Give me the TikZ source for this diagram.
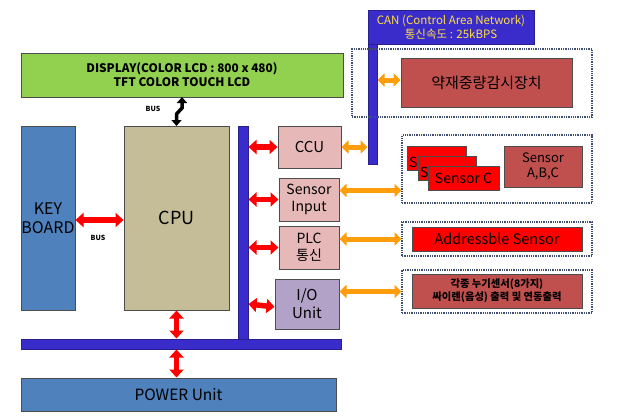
\documentclass[tikz,border=0pt]{standalone}
\usepackage{fontspec}
\setmainfont{Noto Sans CJK KR}
\usetikzlibrary{arrows.meta,calc}
\definecolor{cgreen}{HTML}{92D050}
\definecolor{cblue}{HTML}{4F81BD}
\definecolor{ctan}{HTML}{C4BD97}
\definecolor{cpink}{HTML}{E6B9B8}
\definecolor{cpurple}{HTML}{B3A2C7}
\definecolor{cdred}{HTML}{C0504D}
\definecolor{cred}{HTML}{FF0000}
\definecolor{cbus}{HTML}{3A2CCB}
\definecolor{corange}{HTML}{FF9D0A}
\definecolor{cdot}{HTML}{3F4F6F}
\definecolor{cyel}{HTML}{FFE040}
\newcommand\mkbox[7]{%
  \node[#6, minimum width={(#4-#2)*1pt}, minimum height={(#5-#3)*1pt}] (#1) at ({(#2+#4)/2},{(#3+#5)/2}) {#7};}
\tikzset{
  bx/.style={draw=black!70, line width=0.6pt, inner sep=0pt, outer sep=0pt, align=center},
  busbar/.style={fill=cbus, draw=cbus!70!black, line width=0.4pt, inner sep=0pt, outer sep=0pt, align=center},
  dotbox/.style={draw=cdot, densely dotted, line width=1.3pt, inner sep=0pt, outer sep=0pt},
  redarr/.style={draw=cred, line width=5.5pt, {Triangle[length=8pt,width=14pt]}-{Triangle[length=8pt,width=14pt]}, shorten <=0.5pt, shorten >=0.5pt},
  orarr/.style={draw=corange, line width=5pt, {Triangle[length=7pt,width=13pt]}-{Triangle[length=7pt,width=13pt]}, shorten <=0.5pt, shorten >=0.5pt},
  blkarr/.style={draw=black, line width=3.5pt, {Triangle[length=6pt,width=10pt]}-{Triangle[length=6pt,width=10pt]}},
  small/.style={font=\fontsize{7}{8}\selectfont\bfseries, inner sep=0pt},
}
\begin{document}
\begin{tikzpicture}[x=1pt,y=-1pt]
\useasboundingbox (0,0) rectangle (634,418);
% main blocks
\mkbox{disp}{21}{53}{343}{97}{bx,fill=cgreen,font=\fontsize{11.8}{14}\selectfont\bfseries}{DISPLAY(COLOR LCD : 800 x 480)\\TFT COLOR TOUCH LCD}
\mkbox{kb}{21}{126}{75}{310}{bx,fill=cblue,font=\fontsize{16}{18.5}\selectfont}{KEY\\BOARD}
\mkbox{cpu}{124}{126}{229}{310}{bx,fill=ctan,font=\fontsize{18}{20}\selectfont}{CPU}
\mkbox{vbus}{238}{126}{248}{339}{busbar}{}
\mkbox{hbus}{21}{339}{341}{349}{busbar}{}
\mkbox{power}{21}{378}{336}{411}{bx,fill=cblue,font=\fontsize{15.5}{18}\selectfont}{POWER Unit}
% interface units
\mkbox{ccu}{278}{126}{341}{168}{bx,fill=cpink,font=\fontsize{15}{17}\selectfont}{CCU}
\mkbox{sin}{279}{178}{339}{221}{bx,fill=cpink,font=\fontsize{14}{16.5}\selectfont}{Sensor\\Input}
\mkbox{plc}{279}{226}{339}{269}{bx,fill=cpink,font=\fontsize{14}{16.5}\selectfont}{PLC\\통신}
\mkbox{io}{275}{279}{339}{329}{bx,fill=cpurple,font=\fontsize{15}{18}\selectfont}{I/O\\Unit}
% CAN
\mkbox{canhd}{368}{10}{534}{44}{busbar,text=cyel,font=\fontsize{11.5}{14}\selectfont}{CAN (Control Area Network)\\통신속도 : 25kBPS}
\mkbox{cbar}{368}{44}{377}{164}{busbar}{}
% dotted groups
\mkbox{dot1}{352}{49}{592}{117}{dotbox}{}
\mkbox{dot2}{402}{135}{592}{203}{dotbox}{}
\mkbox{dot3}{402}{222}{592}{256}{dotbox}{}
\mkbox{dot4}{402}{270}{592}{313}{dotbox}{}
% peripherals
\mkbox{weigh}{401}{58}{572}{107}{bx,fill=cdred,font=\fontsize{15}{17}\selectfont}{약재중량감시장치}
\mkbox{sa}{407}{146}{466}{170}{bx,fill=cred}{}
\node[anchor=west,inner sep=0pt,font=\fontsize{14}{16}\selectfont] (sat) at (409,162) {Sensor A};
\mkbox{sb}{418}{156}{476}{180}{bx,fill=cred}{}
\node[anchor=west,inner sep=0pt,font=\fontsize{14}{16}\selectfont] (sbt) at (420,172) {Sensor B};
\mkbox{sc}{428}{166}{499}{190}{bx,fill=cred,font=\fontsize{14}{16}\selectfont}{Sensor C}
\mkbox{sabc}{504}{146}{582}{187}{bx,fill=cdred,font=\fontsize{13}{15.5}\selectfont}{Sensor\\A,B,C}
\mkbox{addr}{412}{227}{582}{251}{bx,fill=cred,font=\fontsize{14.5}{16}\selectfont}{Addressble Sensor}
\mkbox{leak}{412}{274}{582}{308}{bx,fill=cdred,font=\fontsize{10.3}{13}\selectfont\bfseries}{각종 누기센서(8가지)\\싸이렌(음성) 출력 및 연동출력}
% bus arrows
\draw[blkarr] (disp.south) -- ++(0,11) -- ([yshift=12pt]cpu.north) -- (cpu.north);
\node[small] (bus1) at (153,109) {BUS};
\draw[redarr] (kb.east |- 0,220) -- (cpu.west |- 0,220);
\node[small] (bus2) at (98,238) {BUS};
\draw[redarr] (cpu.south) -- (cpu.south |- hbus.north);
\draw[redarr] (cpu.south |- hbus.south) -- (cpu.south |- power.north);
\draw[redarr] (vbus.east |- ccu.west) -- (ccu.west);
\draw[redarr] (vbus.east |- sin.west) -- (sin.west);
\draw[redarr] (vbus.east |- plc.west) -- (plc.west);
\draw[redarr] (vbus.east |- io.west) -- ([yshift=-3pt]io.west);
% orange links
\draw[orarr] (ccu.east) -- (cbar.west |- ccu.east);
\draw[orarr] (cbar.east |- 0,80) -- (weigh.west |- 0,80);
\draw[orarr] ([yshift=9pt]sin.east) -- ([yshift=9pt]sin.east -| dot2.west);
\draw[orarr] (plc.east |- dot3.west) -- (dot3.west);
\draw[orarr] (io.east |- dot4.west) -- (dot4.west);
\end{tikzpicture}
\end{document}
